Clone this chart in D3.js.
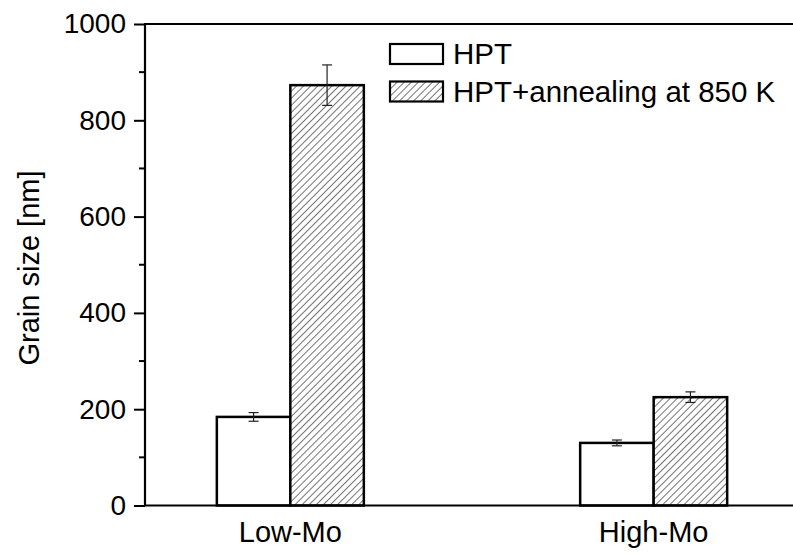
<!DOCTYPE html>
<html lang="en">
<head>
<meta charset="utf-8">
<script src="https://d3js.org/d3.v7.min.js"></script>
<style>
  body { margin: 0; background: #fff; }
  text { font-family: "Liberation Sans", Arial, sans-serif; fill: #000; }
</style>
</head>
<body>
<script>
var categories = ["Low-Mo", "High-Mo"];
var seriesNames = ["HPT", "HPT+annealing at 850 K"];
var hptValues = [184, 130];
var hptErrors = [9, 6];
var annealValues = [873, 225];
var annealErrors = [42, 11];
var yTicks = [0, 200, 400, 600, 800, 1000];

var width = 793, height = 556;
var margin = {left: 145, top: 24, bottom: 50};

var svg = d3.select("body").append("svg")
    .attr("width", width).attr("height", height);

var defs = svg.append("defs");
var pat = defs.append("pattern")
    .attr("id", "hatch")
    .attr("patternUnits", "userSpaceOnUse")
    .attr("width", 5).attr("height", 5)
    .attr("patternTransform", "rotate(45)");
pat.append("rect").attr("width", 5).attr("height", 5).attr("fill", "#fff");
pat.append("line")
    .attr("x1", 0).attr("y1", 0).attr("x2", 0).attr("y2", 5)
    .attr("stroke", "#2a2a2a").attr("stroke-width", 1.3);

var x = d3.scalePoint()
    .domain(categories)
    .range([margin.left, width + 6])
    .padding(0.4);

var y = d3.scaleLinear()
    .domain([0, 1000])
    .range([505.5, margin.top]);

var barW = 73.5;

// data table
var bars = [];
categories.forEach(function(c, i) {
    bars.push({cat: c, s: 0, v: hptValues[i], e: hptErrors[i]});
    bars.push({cat: c, s: 1, v: annealValues[i], e: annealErrors[i]});
});

var g = svg.append("g");
g.selectAll("rect.bar")
    .data(bars)
    .enter().append("rect")
    .attr("class", "bar")
    .attr("x", function(d) { return x(d.cat) + (d.s === 0 ? -barW : 0); })
    .attr("y", function(d) { return y(d.v); })
    .attr("width", barW)
    .attr("height", function(d) { return y(0) - y(d.v); })
    .attr("fill", function(d) { return d.s === 0 ? "#fff" : "url(#hatch)"; })
    .attr("stroke", "#000")
    .attr("stroke-width", 2.5);

// error bars
var eb = g.selectAll("g.err")
    .data(bars)
    .enter().append("g")
    .attr("class", "err")
    .attr("transform", function(d) {
        return "translate(" + (x(d.cat) + (d.s === 0 ? -barW / 2 : barW / 2)) + ",0)";
    });
eb.append("line")
    .attr("y1", function(d) { return y(d.v + d.e); })
    .attr("y2", function(d) { return y(d.v - d.e); })
    .attr("stroke", "#222").attr("stroke-width", 1.2);
eb.append("line")
    .attr("x1", -5).attr("x2", 5)
    .attr("y1", function(d) { return y(d.v + d.e); })
    .attr("y2", function(d) { return y(d.v + d.e); })
    .attr("stroke", "#222").attr("stroke-width", 1.2);
eb.append("line")
    .attr("x1", -5).attr("x2", 5)
    .attr("y1", function(d) { return y(d.v - d.e); })
    .attr("y2", function(d) { return y(d.v - d.e); })
    .attr("stroke", "#222").attr("stroke-width", 1.2);

// y axis
var yAxis = svg.append("g")
    .attr("transform", "translate(" + margin.left + ",0)")
    .call(d3.axisLeft(y).tickValues(yTicks).tickSize(11).tickPadding(8).tickFormat(d3.format("d")));
yAxis.select(".domain").remove();
yAxis.selectAll(".tick line").attr("stroke", "#000").attr("stroke-width", 2);
yAxis.selectAll(".tick text")
    .style("font-size", "28px")
    .style("font-family", "'Liberation Sans', Arial, sans-serif");

// minor ticks
svg.append("g").selectAll("line")
    .data(d3.range(100, 1000, 200))
    .enter().append("line")
    .attr("x1", margin.left - 6).attr("x2", margin.left)
    .attr("y1", function(d) { return y(d); }).attr("y2", function(d) { return y(d); })
    .attr("stroke", "#000").attr("stroke-width", 2);

// frame: left, top, bottom
svg.append("line")
    .attr("x1", margin.left).attr("x2", margin.left)
    .attr("y1", y(1000)).attr("y2", y(0))
    .attr("stroke", "#000").attr("stroke-width", 2.2);
svg.append("line")
    .attr("x1", margin.left - 1).attr("x2", width)
    .attr("y1", y(1000)).attr("y2", y(1000))
    .attr("stroke", "#000").attr("stroke-width", 2.2);
svg.append("line")
    .attr("x1", margin.left - 1).attr("x2", width)
    .attr("y1", y(0)).attr("y2", y(0))
    .attr("stroke", "#000").attr("stroke-width", 2.2);

// x labels
svg.selectAll("text.xl")
    .data(categories)
    .enter().append("text")
    .attr("class", "xl")
    .attr("x", function(d) { return x(d); })
    .attr("y", 542)
    .attr("text-anchor", "middle")
    .style("font-size", "29px")
    .text(function(d) { return d; });

// y title
svg.append("text")
    .attr("transform", "translate(39,268) rotate(-90)")
    .attr("text-anchor", "middle")
    .style("font-size", "29px")
    .text("Grain size [nm]");

// legend
var leg = svg.append("g").attr("transform", "translate(390,44)");
var li = leg.selectAll("g")
    .data(seriesNames)
    .enter().append("g")
    .attr("transform", function(d, i) { return "translate(0," + (i * 37.5) + ")"; });
li.append("rect")
    .attr("width", 53).attr("height", 20)
    .attr("fill", function(d, i) { return i === 0 ? "#fff" : "url(#hatch)"; })
    .attr("stroke", "#000").attr("stroke-width", 2.2);
li.append("text")
    .attr("x", 63).attr("y", 20)
    .style("font-size", "29.5px")
    .text(function(d) { return d; });
</script>
</body>
</html>
